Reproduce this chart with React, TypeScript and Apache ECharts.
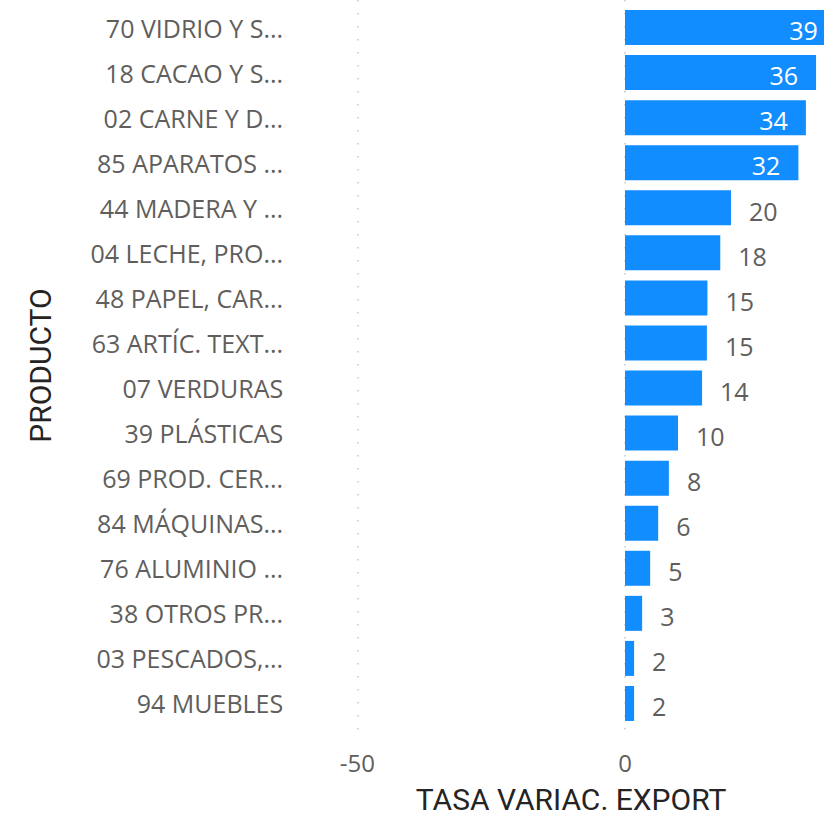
import React, { useEffect, useRef } from "react";
import * as echarts from "echarts";

const categories: string[] = [
  "70 VIDRIO Y S...",
  "18 CACAO Y S...",
  "02 CARNE Y D...",
  "85 APARATOS ...",
  "44 MADERA Y ...",
  "04 LECHE, PRO...",
  "48 PAPEL, CAR...",
  "63 ARTÍC. TEXT...",
  "07 VERDURAS",
  "39 PLÁSTICAS",
  "69 PROD. CER...",
  "84 MÁQUINAS...",
  "76 ALUMINIO ...",
  "38 OTROS PR...",
  "03 PESCADOS,...",
  "94 MUEBLES",
];

const values: number[] = [39.4, 35.7, 33.8, 32.4, 19.8, 17.8, 15.4, 15.3, 14.4, 9.9, 8.2, 6.2, 4.7, 3.2, 1.7, 1.7];

const xTickValues: number[] = [-50, 0];
const xTitle = "TASA VARIAC. EXPORT";
const yTitle = "PRODUCTO";

const W = 824;
const H = 815;
const ZERO_PX = 625;
const PX_PER_UNIT = 267.6 / 50;
const X_MIN = -62;
const X_MAX = (W - ZERO_PX) / PX_PER_UNIT;

const LABEL_FONT = "'Open Sans', 'Noto Sans', sans-serif";
const TITLE_FONT = "Roboto, 'DejaVu Sans', sans-serif";
const GREY = "#605E5C";

export default function App() {
  const ref = useRef<HTMLDivElement>(null);
  useEffect(() => {
    if (!ref.current) return;
    const chart = echarts.init(ref.current, undefined, { renderer: "svg" });
    const mainLeft = ZERO_PX + X_MIN * PX_PER_UNIT;
    const gLeft = ZERO_PX + xTickValues[0] * PX_PER_UNIT;
    const gWidth = (xTickValues[1] - xTickValues[0]) * PX_PER_UNIT;
    const data = values.map((v) => {
      const inside = v >= 30;
      return {
        value: v,
        label: inside
          ? { position: "insideRight", color: "#ffffff", distance: 18, offset: [0, 2] }
          : { position: "right", color: GREY, distance: 18, offset: [0, 3] },
      };
    });
    chart.setOption({
      animation: false,
      grid: [
        { left: mainLeft, right: 0, top: 5, height: 721, containLabel: false, outerBoundsMode: "none" },
        { left: gLeft, width: gWidth, top: 0, height: 740, containLabel: false, outerBoundsMode: "none" },
      ],
      xAxis: [
        {
          type: "value",
          gridIndex: 0,
          min: X_MIN,
          max: X_MAX,
          axisLine: { show: false },
          axisTick: { show: false },
          axisLabel: { show: false },
          splitLine: { show: false },
          name: xTitle,
          nameLocation: "middle",
          nameGap: 58,
          nameTextStyle: {
            fontFamily: TITLE_FONT,
            fontSize: 30,
            color: "#252423",
            padding: [0, 0, 0, 25],
          },
        },
        {
          type: "value",
          gridIndex: 1,
          min: xTickValues[0],
          max: xTickValues[1],
          interval: xTickValues[1] - xTickValues[0],
          axisLine: { show: false },
          axisTick: { show: false },
          axisLabel: {
            fontFamily: LABEL_FONT,
            fontSize: 24,
            color: GREY,
            margin: 10,
          },
          splitLine: {
            show: true,
            lineStyle: { color: "#c8c8c8", width: 1.5, type: [1.5, 11.5] },
          },
        },
      ],
      yAxis: [
        {
          type: "category",
          gridIndex: 0,
          data: categories,
          inverse: true,
          axisLine: { show: false },
          axisTick: { show: false },
          axisLabel: {
            fontFamily: LABEL_FONT,
            fontSize: 25,
            color: GREY,
            margin: 10,
          },
          name: yTitle,
          nameLocation: "middle",
          nameGap: 238,
          nameTextStyle: {
            fontFamily: TITLE_FONT,
            fontSize: 30,
            color: "#252423",
          },
        },
        {
          type: "value",
          gridIndex: 1,
          show: false,
        },
      ],
      series: [
        {
          type: "bar",
          xAxisIndex: 0,
          yAxisIndex: 0,
          data,
          barWidth: 35,
          clip: false,
          itemStyle: { color: "#118DFF" },
          label: {
            show: true,
            fontFamily: LABEL_FONT,
            fontSize: 25,
            formatter: (p: any) => String(Math.round(p.value)),
          },
        },
      ],
    });
    return () => chart.dispose();
  }, []);
  return (
    <div
      ref={ref}
      style={{ position: "fixed", left: 0, top: 0, width: W, height: H, background: "#fff" }}
    />
  );
}
